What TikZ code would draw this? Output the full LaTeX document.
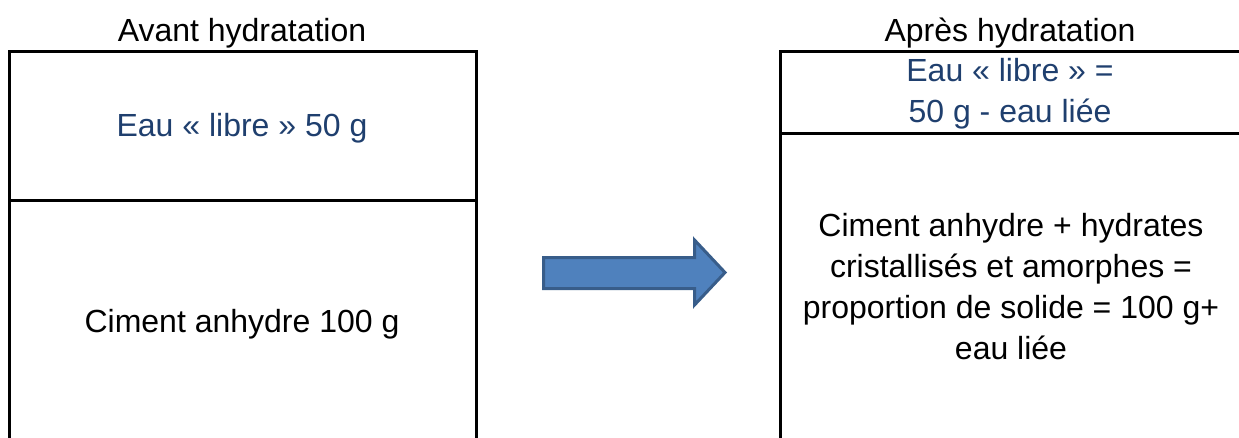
\documentclass[tikz,border=0pt]{standalone}
\usepackage{fontspec}
\setmainfont{Liberation Sans}
\usetikzlibrary{positioning}
\definecolor{hy-text}{HTML}{1F3F6E}
\definecolor{hy-fill}{HTML}{4F81BD}
\definecolor{hy-edge}{HTML}{385D8A}

\begin{document}
\begin{tikzpicture}[
    x=1pt, y=-1pt, % one unit per pixel, y going down
    font=\fontsize{32}{41}\selectfont
  ]

  % Styles for the two columns
  \tikzset{
    wall/.style={draw=black, line width=3pt},
    water/.style={text=hy-text, align=center, anchor=base, inner sep=0pt},
    solid/.style={text=black, align=center, anchor=base, inner sep=0pt},
    heading/.style={text=black, anchor=base, inner sep=0pt},
    bigarrow/.style={draw=hy-edge, fill=hy-fill, line width=3pt, line join=miter}
  }

  \useasboundingbox (0,0) rectangle (1239,437);

  % Before hydration
  \node[heading] (tavant) at (242,41) {Avant hydratation};
  \draw[wall] (9,445) -- (9,51) -- (476,51) -- (476,445);
  \draw[wall] (9,200) -- (476,200);
  \node[water] (eauav) at (242,136) {Eau « libre » 50 g};
  \node[solid] (cimav) at (242,332) {Ciment anhydre 100 g};

  % After hydration
  \node[heading] (tapres) at (1010,41) {Après hydratation};
  \draw[wall] (780,445) -- (780,51) -- (1250,51);
  \draw[wall] (780,133) -- (1250,133);
  \node[water] (eauap) at (1010,122) {Eau « libre » =\\50 g - eau liée};
  \node[solid] (cimap) at (1011,359)
    {Ciment anhydre + hydrates\\cristallisés et amorphes =\\proportion de solide = 100 g+\\eau liée};

  % Block arrow between the columns
  \draw[bigarrow] (543.5,257.5) -- (694.5,257.5) -- (694.5,240) -- (725,272.5)
    -- (694.5,305) -- (694.5,288.5) -- (543.5,288.5) -- cycle;

\end{tikzpicture}
\end{document}
